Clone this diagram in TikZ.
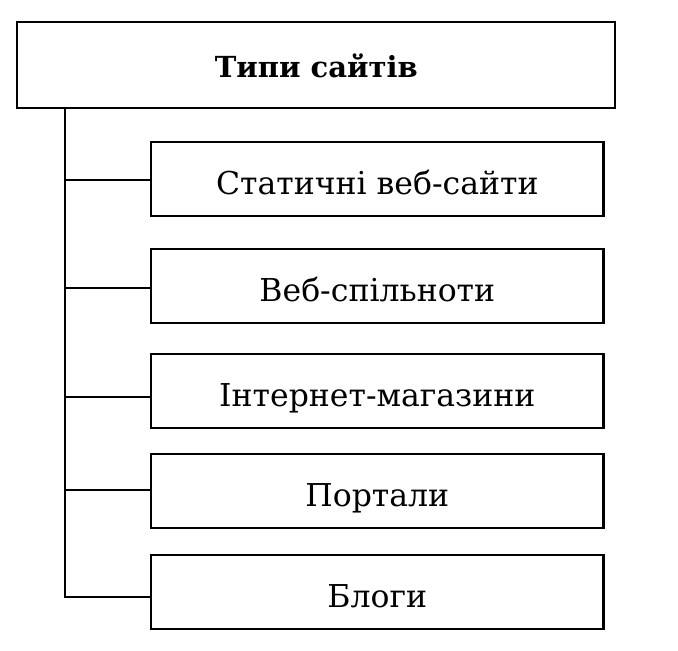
\documentclass[tikz,border=0pt]{standalone}
\usepackage{fontspec}
\setmainfont{DejaVu Serif}
\usepackage{tikz}
\usetikzlibrary{positioning}

\begin{document}
\begin{tikzpicture}[x=1pt, y=1pt, line width=2.3pt,
		font=\fontsize{31.5}{36}\selectfont,
		typebox/.style={draw, inner sep=0pt, minimum width=598pt, minimum height=86pt,
			text height=25pt, text depth=0pt},
		sitebox/.style={draw, inner sep=0pt, minimum width=452.5pt, minimum height=74pt,
			text height=31pt, text depth=0pt}]
	% Page frame
	\useasboundingbox (0,0) rectangle (678,-651);
	
	% Top box
	\node[typebox, font=\fontsize{29}{34}\selectfont\bfseries] (types) at (316.3,-65.2) {Типи сайтів};
	
	% Site boxes
	\node[sitebox] (static) at (377.3,-178.8) {Статичні веб-сайти};
	\node[sitebox] (community) at (377.3,-285.7) {Веб-спільноти};
	\node[sitebox] (shop) at (377.3,-391.2) {Інтернет-магазини};
	\node[sitebox] (portal) at (377.3,-491.3) {Портали};
	\node[sitebox] (blog) at (377.3,-591.7) {Блоги};
	
	% Trunk line
	\coordinate (trunk) at (64.8,0);
	\draw (types.south -| trunk) |- ([yshift=-5.6pt]blog.west);
	
	% Branches
	\foreach \site/\dy in {static/-1.2, community/-2, shop/-6, portal/1.3}
		\draw ([yshift=\dy pt]\site.west) -- ++(-86.2,0);
\end{tikzpicture}
\end{document}
